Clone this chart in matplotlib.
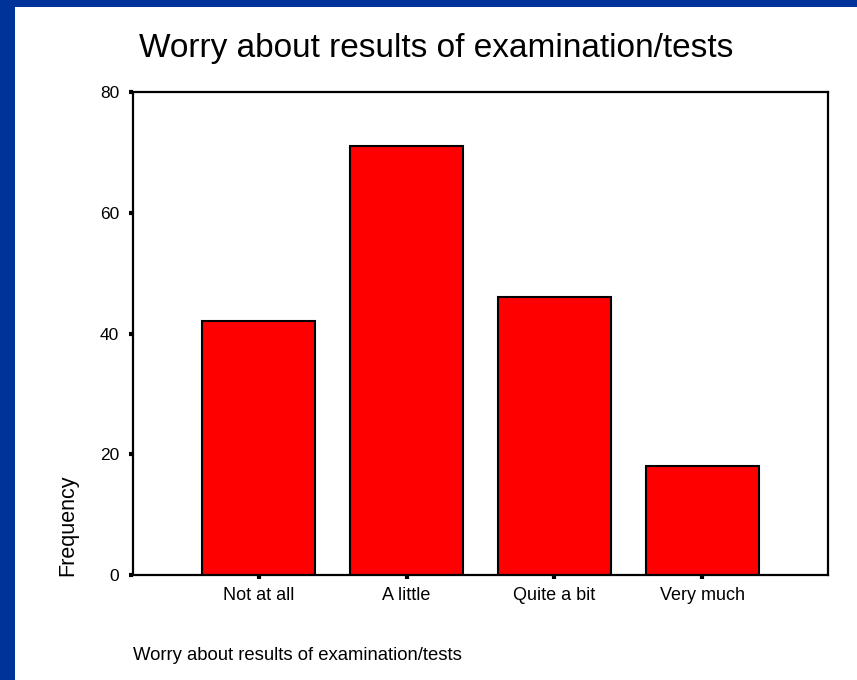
import matplotlib
matplotlib.use("Agg")
import matplotlib.pyplot as plt
from matplotlib.patches import Rectangle

# Data
categories = ["Not at all", "A little", "Quite a bit", "Very much"]
frequency = [42, 71, 46, 18]
y_ticks = [0, 20, 40, 60, 80]

title = "Worry about results of examination/tests"

plt.rcParams['font.family'] = ['Liberation Sans', 'DejaVu Sans']

fig = plt.figure(figsize=(8.57, 6.8), dpi=100)
fig.patch.set_facecolor("white")

# Blue slide border (left and top)
fig.patches.append(Rectangle((0, 0), 15 / 857, 1, transform=fig.transFigure,
                             facecolor="#003399", edgecolor="none", zorder=0))
fig.patches.append(Rectangle((0, 1 - 7 / 680), 1, 7 / 680, transform=fig.transFigure,
                             facecolor="#003399", edgecolor="none", zorder=0))

ax = fig.add_axes([133 / 857, 105 / 680, 695 / 857, 483 / 680])
x = list(range(len(categories)))
ax.bar(x, frequency, width=0.765, color="#ff0000", edgecolor="black", linewidth=1.5)

ax.set_xlim(-0.85, 3.85)
ax.set_ylim(0, 80)
ax.set_xticks(x)
ax.set_xticklabels(categories, fontsize=13)
ax.set_yticks(y_ticks)
ax.set_yticklabels([str(v) for v in y_ticks], fontsize=12.5)
ax.tick_params(axis="both", length=3, width=3, color="black")
ax.tick_params(axis="x", pad=6)
ax.tick_params(axis="y", pad=7)
for s in ax.spines.values():
    s.set_linewidth(1.6)

fig.text(436 / 857, 1 - 49 / 680, title, fontsize=24, ha="center", va="center")
fig.text(133 / 857, 1 - 655 / 680, title, fontsize=13.3, ha="left", va="center")
fig.text(68 / 857, 1 - 525 / 680, "Frequency", fontsize=15.5, rotation=90,
         ha="center", va="center")

fig.savefig("out.png", dpi=100)
